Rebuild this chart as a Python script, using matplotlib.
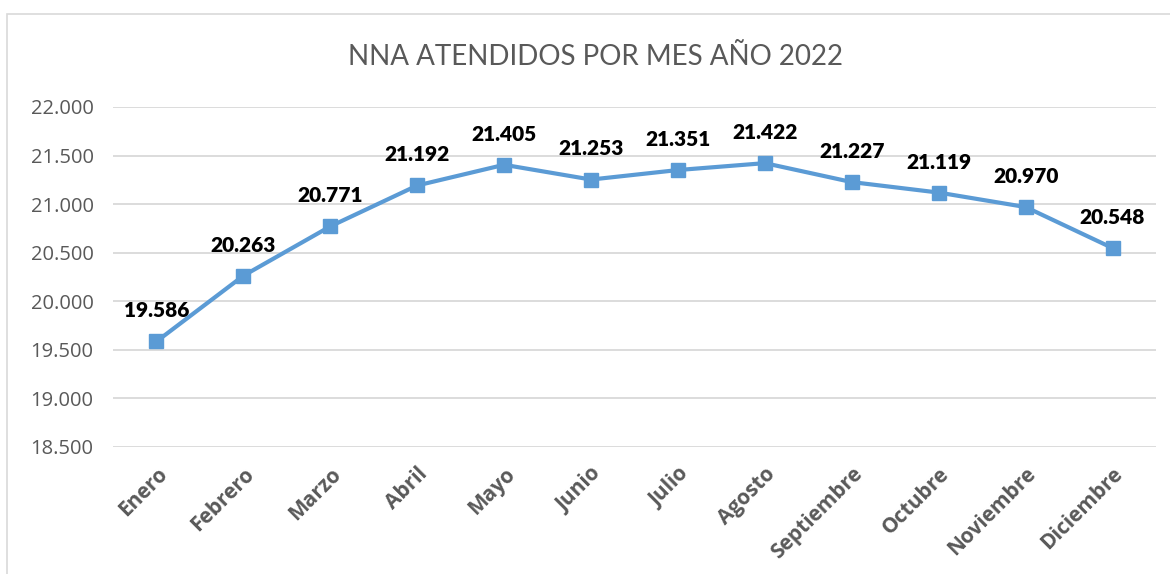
import matplotlib
matplotlib.use("Agg")
import matplotlib.pyplot as plt
from matplotlib.patches import Rectangle
from matplotlib.ticker import FuncFormatter, MultipleLocator

meses = ["Enero", "Febrero", "Marzo", "Abril", "Mayo", "Junio", "Julio",
         "Agosto", "Septiembre", "Octubre", "Noviembre", "Diciembre"]
atendidos = [19586, 20263, 20771, 21192, 21405, 21253, 21351,
             21422, 21227, 21119, 20970, 20548]


def miles(v, pos=None):
    # separador de miles con punto
    return f"{v:,.0f}".replace(",", ".")


fig = plt.figure(figsize=(11.7, 5.74), dpi=100)
ax = fig.add_axes([0.0966, 0.2213, 0.8914, 0.5923])

# marco del gráfico (estilo Excel)
fig.patches.append(Rectangle((7 / 1170, -0.1), 1.2, 1 - 14 / 574 + 0.1,
                             transform=fig.transFigure, fill=False,
                             edgecolor="#D9D9D9", linewidth=1.2))

x = range(len(meses))
ax.plot(x, atendidos, color="#5B9BD5", linewidth=3, marker="s",
        markersize=9.5, zorder=3)

for i, v in zip(x, atendidos):
    ax.annotate(miles(v), (i, v), xytext=(0, 22), textcoords="offset points",
                ha="center", va="center", fontsize=15, fontweight="heavy",
                family="Lato", color="black")

ax.set_xlim(-0.5, len(meses) - 0.5)
ax.set_ylim(18500, 22000)
ax.yaxis.set_major_locator(MultipleLocator(500))
ax.yaxis.set_major_formatter(FuncFormatter(miles))
ax.grid(axis="y", color="#D9D9D9", linewidth=1.3)
ax.set_axisbelow(True)

ax.set_xticks(list(x))
ax.set_xticklabels(meses, rotation=45, ha="right", rotation_mode="anchor",
                   fontsize=15, fontweight="bold", family="Open Sans",
                   color="#595959")
for lab in ax.get_yticklabels():
    lab.set_family("Open Sans")
    lab.set_fontsize(14.5)
    lab.set_color("#595959")
ax.tick_params(axis="both", length=0)
ax.tick_params(axis="y", pad=14)
ax.tick_params(axis="x", pad=12)
for s in ax.spines.values():
    s.set_visible(False)

fig.text(595 / 1170, 1 - 57 / 574, "NNA ATENDIDOS POR MES AÑO 2022",
         ha="center", va="center", fontsize=20, family="Lato",
         color="#595959")

fig.savefig("out.png", dpi=100)
